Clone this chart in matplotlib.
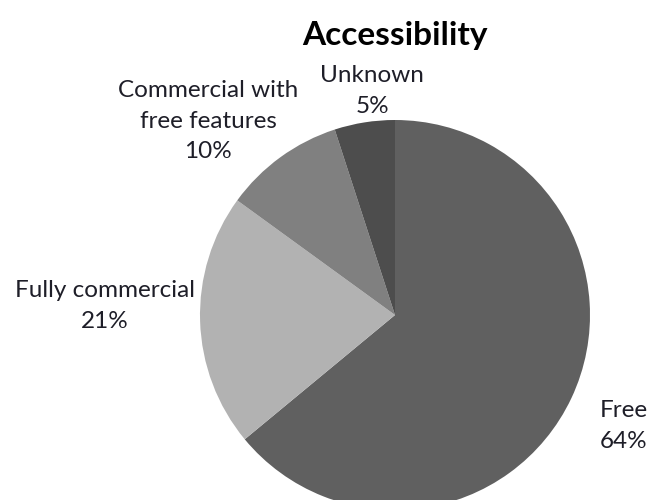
import matplotlib
matplotlib.use("Agg")
import matplotlib.pyplot as plt

# Share of tools by accessibility type (percent)
categories = ["Free", "Fully commercial", "Commercial with\nfree features", "Unknown"]
values = [64, 21, 10, 5]
colors = ["#606060", "#b2b2b2", "#808080", "#4d4d4d"]

# Label anchor points in pixel space (x, y from top)
label_pos = [(624, 426), (105, 306), (208, 121), (372, 91)]

plt.rcParams["font.family"] = ["Lato", "DejaVu Sans"]

fig = plt.figure(figsize=(6.5, 5), dpi=100)
ax = fig.add_axes([0, 0, 1, 1])

cx, cy, r = 395, 500 - 315, 195
ax.pie(values, colors=colors, startangle=90, counterclock=False,
       radius=r, center=(cx, cy), frame=True,
       wedgeprops=dict(linewidth=0))
ax.set_xlim(0, 650)
ax.set_ylim(0, 500)
ax.set_aspect("equal")
ax.axis("off")

text_color = "#1e1e28"
for name, v, (x, y) in zip(categories, values, label_pos):
    ax.text(x, 500 - y, f"{name}\n{v}%", ha="center", va="center",
            fontsize=17.5, color=text_color, linespacing=1.55)

ax.text(395, 500 - 36, "Accessibility", ha="center", va="center",
        fontsize=24, fontweight="bold", color="#000000")

fig.savefig("out.png", dpi=100)
